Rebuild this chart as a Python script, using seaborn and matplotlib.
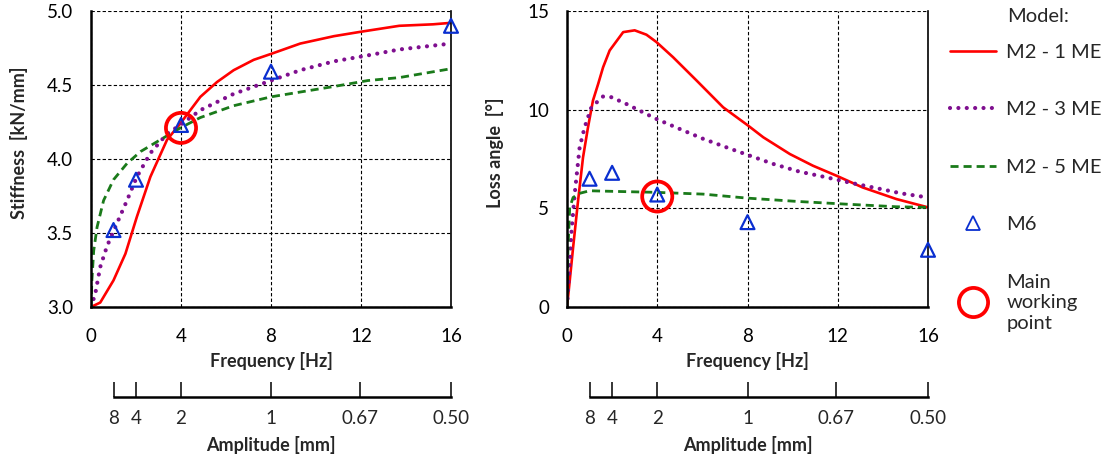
import matplotlib
matplotlib.use("Agg")
import matplotlib.pyplot as plt
from matplotlib.lines import Line2D
import seaborn as sns

# Stiffness curves (frequency in Hz, stiffness in kN/mm)
freq_s1 = [0, 0.41, 1.0, 1.53, 2.04, 2.64, 3.38, 3.97, 4.86, 5.6, 6.34, 7.23, 8.0, 9.3, 10.8, 12.0, 13.7, 15.2, 16]
stiff_1me = [3.0, 3.03, 3.18, 3.36, 3.61, 3.88, 4.13, 4.24, 4.42, 4.52, 4.60, 4.67, 4.71, 4.78, 4.83, 4.86, 4.90, 4.91, 4.92]
freq_s3 = [0, 0.19, 0.41, 0.71, 1.08, 1.6, 2.04, 2.64, 3.38, 3.97, 4.86, 6.34, 8.0, 9.3, 10.8, 12.3, 13.7, 16]
stiff_3me = [3.0, 3.09, 3.27, 3.41, 3.54, 3.72, 3.88, 4.04, 4.17, 4.23, 4.33, 4.44, 4.53, 4.60, 4.66, 4.70, 4.74, 4.78]
freq_s5 = [0, 0.04, 0.12, 0.27, 0.56, 1.0, 1.6, 2.2, 3.08, 3.97, 4.86, 6.34, 8.0, 10.8, 12.3, 13.7, 16]
stiff_5me = [3.0, 3.18, 3.38, 3.54, 3.72, 3.86, 3.97, 4.05, 4.13, 4.21, 4.28, 4.36, 4.42, 4.49, 4.53, 4.55, 4.61]

# Loss angle curves (degrees)
freq_l1 = [0, 0.12, 0.27, 0.49, 0.71, 0.93, 1.15, 1.38, 1.6, 1.89, 2.49, 3.0, 3.52, 3.96, 4.7, 5.74, 6.92, 8.03, 8.7, 9.88, 10.9, 11.95, 13.1, 14.6, 16]
loss_1me = [0, 1.32, 3.01, 5.38, 7.58, 9.1, 10.46, 11.3, 12.15, 13.0, 13.93, 14.02, 13.8, 13.43, 12.66, 11.48, 10.12, 9.19, 8.6, 7.75, 7.16, 6.65, 6.06, 5.47, 5.05]
freq_l3 = [0, 0.09, 0.19, 0.34, 0.56, 0.78, 1.08, 1.6, 1.97, 2.63, 3.22, 3.96, 5.0, 6.04, 7.07, 8.1, 9.14, 10.3, 11.5, 12.5, 13.9, 14.8, 16]
loss_3me = [0, 1.66, 3.69, 5.72, 8.09, 9.1, 10.12, 10.67, 10.63, 10.29, 9.95, 9.53, 9.02, 8.52, 8.09, 7.67, 7.25, 6.86, 6.57, 6.31, 5.98, 5.76, 5.55]
freq_l5 = [0, 0.04, 0.12, 0.27, 0.56, 1.0, 2.04, 3.96, 6.04, 7.96, 10.2, 12.4, 14.6, 16]
loss_5me = [0, 2.84, 5.04, 5.55, 5.76, 5.89, 5.86, 5.81, 5.72, 5.52, 5.35, 5.21, 5.08, 5.05]

# M6 measurements
m6_freq = [1, 2, 4, 8, 16]
m6_stiff = [3.52, 3.86, 4.23, 4.59, 4.90]
m6_loss = [6.5, 6.8, 5.7, 4.3, 2.9]

# main working point
wp_freq = [4]
wp_stiff = [4.21]
wp_loss = [5.6]

# amplitude axis (amplitude = 8 / frequency)
amp_values = [8, 4, 2, 1, 0.67, 0.5]
amp_labels = ["8", "4", "2", "1", "0.67", "0.50"]

sns.set_theme(style="white")
plt.rcParams["font.family"] = ["Lato", "DejaVu Sans"]

RED = "#FF0000"
PURPLE = "#7F0F8F"
GREEN = "#1A7A1A"
BLUE = "#0A2FD0"

style_1 = dict(color=RED, linewidth=1.9)
style_3 = dict(color=PURPLE, linewidth=3.0, linestyle=(0, (0.01, 2.0)), dash_capstyle="round")
style_5 = dict(color=GREEN, linewidth=2.0, linestyle=(0, (2.9, 1.8)))

W, H = 1109, 459
fig = plt.figure(figsize=(W / 100, H / 100), dpi=100)

panels = [
    dict(left=91, right=451, top=11, curves=[(freq_s1, stiff_1me, style_1), (freq_s3, stiff_3me, style_3),
                                             (freq_s5, stiff_5me, style_5)],
         m6=m6_stiff, wp=wp_stiff, ylim=(3.0, 5.0), yticks=[3.0, 3.5, 4.0, 4.5, 5.0], yfmt="{:.1f}",
         ylabel="Stiffness  [kN/mm]", ylab_y=0.555),
    dict(left=567, right=928, top=11, curves=[(freq_l1, loss_1me, style_1), (freq_l3, loss_3me, style_3),
                                              (freq_l5, loss_5me, style_5)],
         m6=m6_loss, wp=wp_loss, ylim=(0, 15), yticks=[0, 5, 10, 15], yfmt="{:d}",
         ylabel="Loss angle  [°]", ylab_y=0.52),
]

bottom_px = 307
for p in panels:
    ax = fig.add_axes([p["left"] / W, 1 - bottom_px / H, (p["right"] - p["left"]) / W, (bottom_px - p["top"]) / H])
    for fx, fy, st in p["curves"]:
        sns.lineplot(x=fx, y=fy, ax=ax, sort=False, estimator=None, **st)
    sns.scatterplot(x=m6_freq, y=p["m6"], ax=ax, marker="^", s=100, facecolor="none",
                    edgecolor=BLUE, linewidth=1.6, clip_on=False, zorder=5)
    sns.scatterplot(x=wp_freq, y=p["wp"], ax=ax, marker="o", s=470, facecolor="none",
                    edgecolor=RED, linewidth=2.7, clip_on=False, zorder=6)
    ax.set_xlim(0, 16)
    ax.set_ylim(*p["ylim"])
    ax.set_xticks([0, 4, 8, 12, 16])
    ax.set_yticks(p["yticks"])
    ax.set_yticklabels([p["yfmt"].format(v) for v in p["yticks"]])
    ax.tick_params(axis="both", length=0, labelsize=13.5, colors="black")
    ax.tick_params(axis="y", pad=13)
    ax.tick_params(axis="x", pad=15)
    ax.grid(True, color="black", linestyle=(0, (3, 2)), linewidth=0.8)
    for side in ["left", "bottom", "right"]:
        ax.spines[side].set_color("black")
        ax.spines[side].set_linewidth(1.8)
    ax.spines["right"].set_linewidth(1.2)
    ax.spines["top"].set_visible(False)
    ax.set_xlabel("Frequency [Hz]", fontsize=13, fontweight="bold", labelpad=5)
    ax.set_ylabel(p["ylabel"], fontsize=13, fontweight="bold")
    ax.yaxis.set_label_coords(-0.175, p["ylab_y"])

    # secondary amplitude axis
    amp_ax = fig.add_axes([p["left"] / W, 1 - 397 / H, (p["right"] - p["left"]) / W, 0.001])
    amp_ax.set_xlim(0, 16)
    amp_ax.set_xticks([8 / a for a in amp_values])
    amp_ax.set_xticklabels(amp_labels)
    amp_ax.set_yticks([])
    amp_ax.patch.set_visible(False)
    for side in ["left", "right", "top"]:
        amp_ax.spines[side].set_visible(False)
    amp_ax.spines["bottom"].set_bounds(8 / amp_values[0], 8 / amp_values[-1])
    amp_ax.spines["bottom"].set_color("black")
    amp_ax.spines["bottom"].set_linewidth(1.8)
    amp_ax.tick_params(axis="x", direction="in", length=11, width=1.1, color="black",
                       labelsize=13.5, pad=9, bottom=True)
    amp_ax.set_xlabel("Amplitude [mm]", fontsize=13, fontweight="bold", labelpad=7)

# legend
handles = [
    Line2D([], [], **style_1),
    Line2D([], [], **style_3),
    Line2D([], [], **style_5),
    Line2D([], [], linestyle="none", marker="^", markersize=10, markerfacecolor="none",
           markeredgecolor=BLUE, markeredgewidth=1.3),
    Line2D([], [], linestyle="none", marker="o", markersize=21, markerfacecolor="none",
           markeredgecolor=RED, markeredgewidth=2.7),
]
labels = ["M2 - 1 ME", "M2 - 3 ME", "M2 - 5 ME", "M6", "Main\nworking\npoint"]
fig.text(1007 / W, 1 - 17 / H, "Model:", fontsize=14.5, va="center", ha="left")
leg = fig.legend(handles, labels, loc="upper left", bbox_to_anchor=(950 / W, 1 - 44 / H), frameon=False,
                 fontsize=14.5, handlelength=2.3, handletextpad=0.5, labelspacing=2.0, borderaxespad=0,
                 borderpad=0)
for t in leg.get_texts():
    t.set_linespacing(1.25)

fig.savefig("out.png", dpi=100)
